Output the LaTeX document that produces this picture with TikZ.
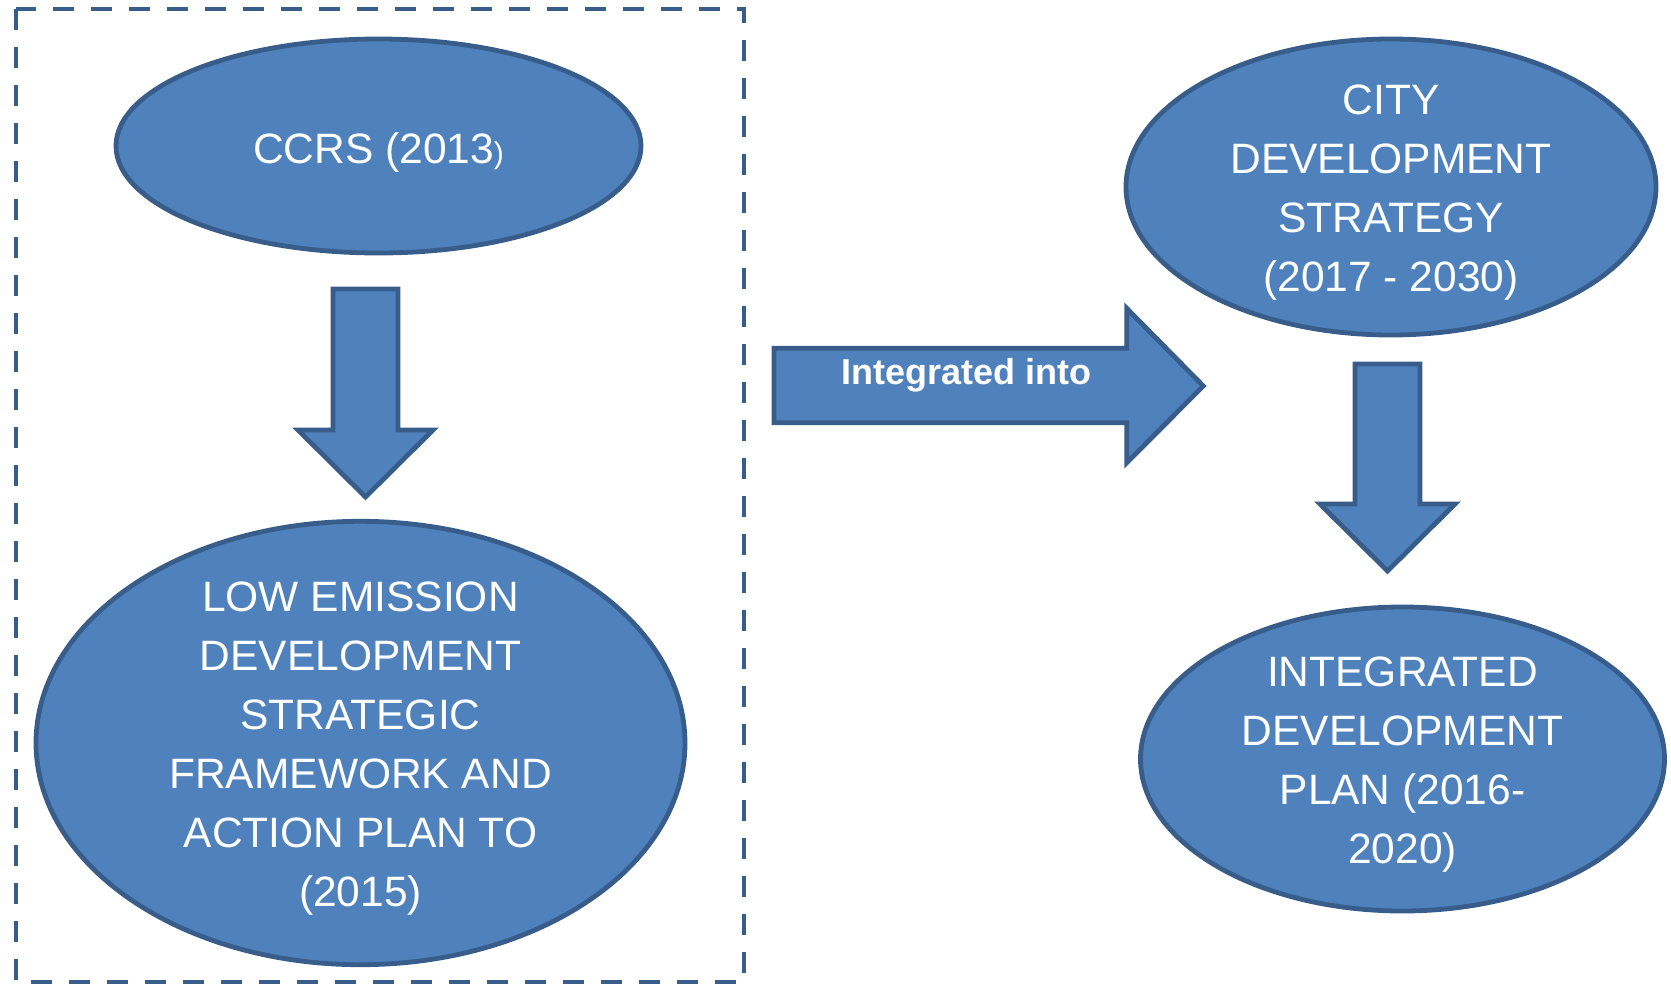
\documentclass[tikz,border=0pt]{standalone}
\usepackage{fontspec}
\setmainfont{Liberation Sans}
\usetikzlibrary{shapes.geometric}
\definecolor{boxfill}{HTML}{4F81BD}
\definecolor{boxline}{HTML}{385D8A}
\tikzset{
  oval/.style={ellipse, draw=boxline, fill=boxfill, line width=2.4pt, inner sep=0pt},
  ovaltext/.style={text=white, align=center, inner sep=0pt, yshift=-3pt,
    font=\fontsize{21.25}{29.5}\selectfont},
  blockarrow/.style={draw=boxline, fill=boxfill, line width=2.4pt, line join=miter},
  groupframe/.style={draw=boxline, line width=2.4pt, dash pattern=on 10.5pt off 8.5pt},
  arrowlabel/.style={text=white, font=\fontsize{18}{22}\selectfont\bfseries, inner sep=0pt}
}
\begin{document}
\begin{tikzpicture}[x=0.5pt, y=-0.5pt]
\useasboundingbox (0,0) rectangle (1671,985);
% dashed group frame
\draw[groupframe] (16,9) rectangle (744,982);
% ellipses
\node[oval, minimum width=262.5pt, minimum height=107pt] (ccrs) at (378.5,146) {};
\node[ovaltext] (ccrstext) at (ccrs.center) {CCRS (2013{\fontsize{15}{15}\selectfont )}};
\node[oval, minimum width=324.5pt, minimum height=221.7pt] (low) at (360.5,743) {};
\node[ovaltext] (lowtext) at (low.center)
  {LOW EMISSION\\DEVELOPMENT\\STRATEGIC\\FRAMEWORK AND\\ACTION PLAN TO\\(2015)};
\node[oval, minimum width=265pt, minimum height=148pt] (cds) at (1391,187) {};
\node[ovaltext] (cdstext) at (cds.center)
  {CITY\\DEVELOPMENT\\STRATEGY\\(2017 - 2030)};
\node[oval, minimum width=262pt, minimum height=152pt] (idp) at (1402.5,759) {};
\node[ovaltext] (idptext) at (idp.center)
  {INTEGRATED\\DEVELOPMENT\\PLAN (2016-\\2020)};
% block arrow 1 (down)
\draw[blockarrow] (333,289) -- (398,289) -- (398,430) -- (433,430) -- (365.5,497)
  -- (298,430) -- (333,430) -- cycle;
% block arrow 2 (right)
\draw[blockarrow] (774,348.3) -- (1126.7,348.3) -- (1126.7,308.3) -- (1203.3,386)
  -- (1126.7,462.7) -- (1126.7,422.7) -- (774,422.7) -- cycle;
\node[arrowlabel, anchor=base] (intlabel) at (966.5,384.3) {Integrated into};
% block arrow 3 (down)
\draw[blockarrow] (1355,364) -- (1420,364) -- (1420,504) -- (1455,504) -- (1387.5,571)
  -- (1320,504) -- (1355,504) -- cycle;
\end{tikzpicture}
\end{document}
